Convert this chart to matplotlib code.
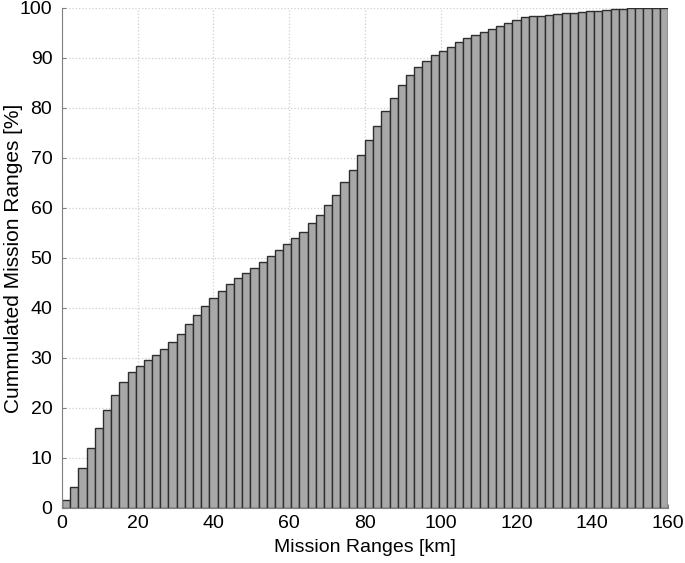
import numpy as np
import matplotlib.pyplot as plt

plt.rcParams['font.family'] = ['Liberation Sans', 'DejaVu Sans']

# cumulated share of missions per range bin [%], 74 bins over 0..160 km
cum_pct = [
    1.6, 4.2, 8.0, 11.9, 16.0, 19.6, 22.6, 25.2, 27.1, 28.4,
    29.5, 30.5, 31.7, 33.1, 34.8, 36.7, 38.5, 40.3, 41.9, 43.3,
    44.8, 46.0, 47.0, 48.0, 49.2, 50.3, 51.5, 52.8, 53.9, 55.2,
    56.9, 58.5, 60.6, 62.6, 65.1, 67.6, 70.5, 73.5, 76.4, 79.4,
    82.0, 84.5, 86.5, 88.1, 89.3, 90.5, 91.3, 92.1, 93.1, 93.9,
    94.6, 95.2, 95.8, 96.4, 97.0, 97.6, 98.1, 98.3, 98.4, 98.6,
    98.7, 98.9, 99.0, 99.1, 99.3, 99.4, 99.6, 99.7, 99.8, 99.9,
    99.9, 100.0, 100.0, 100.0,
]
range_max = 160
xticks = [0, 20, 40, 60, 80, 100, 120, 140, 160]
yticks = [0, 10, 20, 30, 40, 50, 60, 70, 80, 90, 100]

n = len(cum_pct)
w = range_max / n
left_edges = np.arange(n) * w

fig = plt.figure(figsize=(6.85, 5.63), dpi=100)
ax = fig.add_axes([0.0905, 0.0977, 0.8847, 0.8881])

ax.bar(left_edges, cum_pct, width=w, align='edge',
       color='#a8a8a8', edgecolor='#2e2e2e', linewidth=1.0, zorder=2)

ax.set_xlim(0, range_max)
ax.set_ylim(0, 100)
ax.set_xticks(xticks)
ax.set_yticks(yticks)
ax.grid(True, color='#cfcfcf', linestyle=':', linewidth=0.9, zorder=0)
ax.set_axisbelow(True)

for s in ['top', 'right']:
    ax.spines[s].set_visible(False)
for s in ['left', 'bottom']:
    ax.spines[s].set_color('#808080')
ax.tick_params(direction='in', length=3, color='#808080', labelsize=14, pad=7)
ax.tick_params(axis='x', pad=5)

ax.set_xlabel('Mission Ranges [km]', fontsize=14, labelpad=5)
ax.set_ylabel('Cummulated Mission Ranges [%]', fontsize=15)
ax.yaxis.set_label_coords(-0.064, 0.5)

fig.savefig('out.png', dpi=100)
